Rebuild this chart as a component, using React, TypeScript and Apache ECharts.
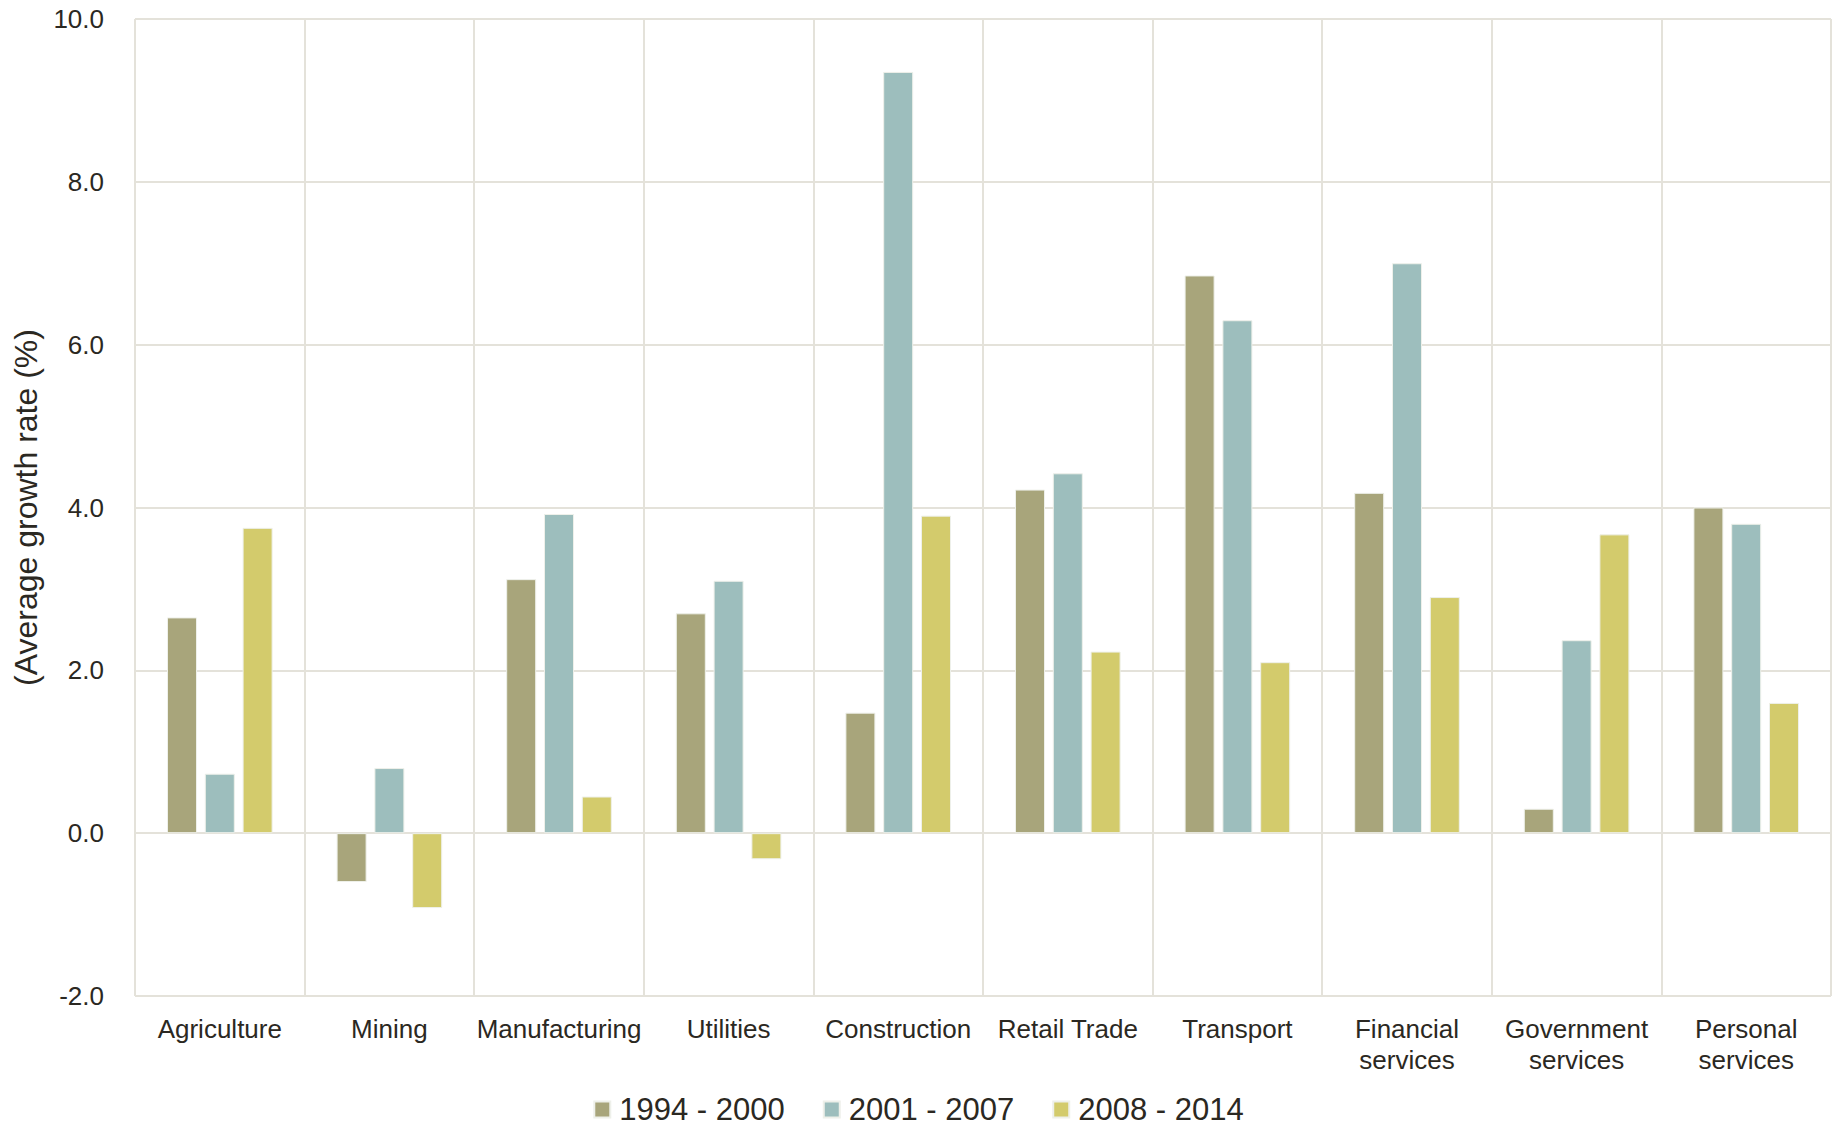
import React, { useEffect, useRef } from "react";
import * as echarts from "echarts";

// Sectors along the x axis
const categories: string[] = [
  "Agriculture",
  "Mining",
  "Manufacturing",
  "Utilities",
  "Construction",
  "Retail Trade",
  "Transport",
  "Financial\nservices",
  "Government\nservices",
  "Personal\nservices",
];

// Average annual growth rate (%) per period
const period1994_2000: number[] = [2.65, -0.6, 3.12, 2.7, 1.48, 4.22, 6.85, 4.18, 0.3, 4.0];
const period2001_2007: number[] = [0.73, 0.8, 3.92, 3.1, 9.35, 4.42, 6.3, 7.0, 2.37, 3.8];
const period2008_2014: number[] = [3.75, -0.92, 0.45, -0.32, 3.9, 2.23, 2.1, 2.9, 3.67, 1.6];

const seriesNames: string[] = ["1994 - 2000", "2001 - 2007", "2008 - 2014"];
const seriesColors: string[] = ["#a8a57b", "#9dbebd", "#d3cb6c"];

const TEXT = "#2b2822";
const GRID = "#e4e2da";
const FONT = "'Liberation Sans', Arial, Helvetica, sans-serif";

export default function App() {
  const ref = useRef<HTMLDivElement>(null);

  useEffect(() => {
    document.body.style.margin = "0";
    if (!ref.current) return;
    const chart = echarts.init(ref.current, undefined, { renderer: "svg" });

    const values = [period1994_2000, period2001_2007, period2008_2014];

    chart.setOption({
      animation: false,
      backgroundColor: "#ffffff",
      textStyle: { fontFamily: FONT, color: TEXT },
      grid: { left: 135, right: 6, top: 19, bottom: 133, containLabel: false },
      legend: {
        data: seriesNames,
        left: "center",
        top: 1089,
        itemWidth: 16,
        itemHeight: 16,
        itemGap: 38,
        icon: "rect",
        textStyle: {
          fontFamily: FONT,
          fontSize: 31,
          lineHeight: 31,
          color: TEXT,
          padding: [0, 0, 0, 4],
        },
      },
      xAxis: {
        type: "category",
        data: categories,
        boundaryGap: true,
        axisLine: { show: false },
        axisTick: { show: false },
        splitLine: { show: true, lineStyle: { color: GRID, width: 2 } },
        axisLabel: {
          fontFamily: FONT,
          fontSize: 26,
          lineHeight: 31,
          color: TEXT,
          margin: 17,
          interval: 0,
        },
      },
      yAxis: {
        type: "value",
        min: -2,
        max: 10,
        interval: 2,
        name: "(Average growth rate (%)",
        nameLocation: "middle",
        nameGap: 93,
        nameRotate: 90,
        nameTextStyle: { fontFamily: FONT, fontSize: 32, color: TEXT },
        axisLine: { show: false },
        axisTick: { show: false },
        splitLine: { show: true, lineStyle: { color: GRID, width: 2 } },
        axisLabel: {
          fontFamily: FONT,
          fontSize: 26,
          color: TEXT,
          margin: 31,
          formatter: (v: number) => v.toFixed(1),
        },
      },
      series: seriesNames.map((name, i) => ({
        name,
        type: "bar",
        data: values[i],
        barWidth: 30,
        barGap: "26%",
        itemStyle: {
          color: seriesColors[i],
          borderColor: "#eef0ea",
          borderWidth: 1,
        },
      })),
    });

    return () => chart.dispose();
  }, []);

  return (
    <div
      ref={ref}
      style={{ position: "fixed", left: 0, top: 0, width: 1837, height: 1129 }}
    />
  );
}
